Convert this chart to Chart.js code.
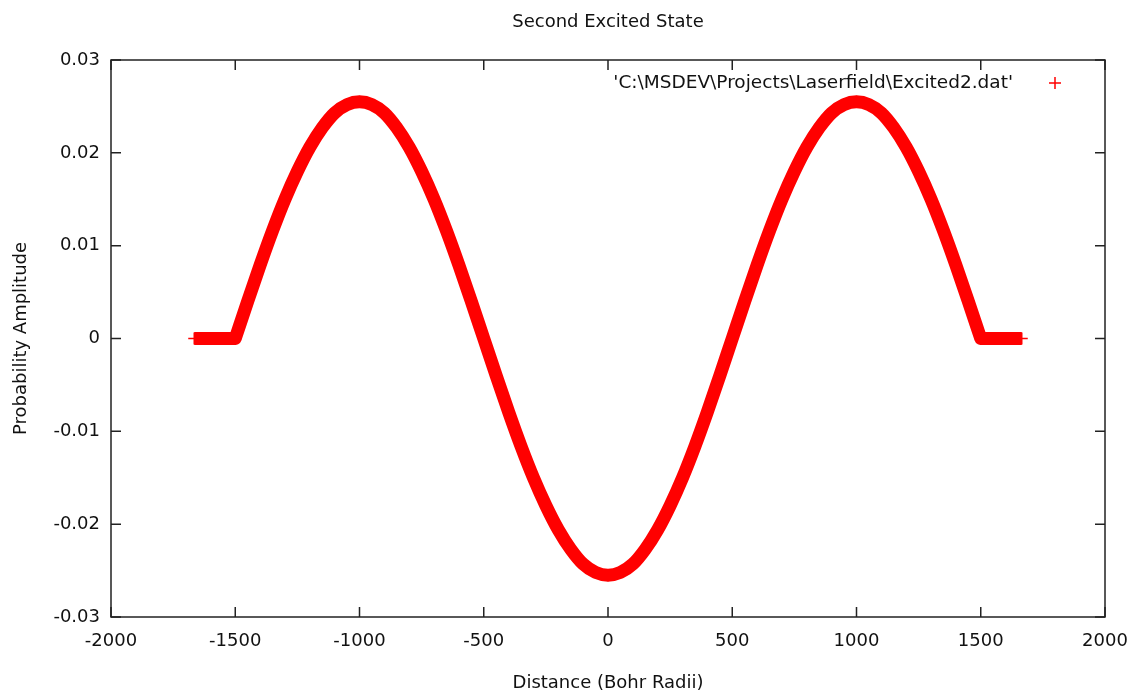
<!DOCTYPE html>
<html>
<head>
<meta charset="utf-8">
<title>Second Excited State</title>
<script src="https://cdn.jsdelivr.net/npm/chart.js@4.4.1/dist/chart.umd.min.js"></script>
<style>
	html, body { margin: 0; padding: 0; background: #ffffff; overflow: hidden; }
	#wrap { width: 1134px; height: 696px; position: relative; }
</style>
</head>
<body>
<div id="wrap"><canvas id="excited-chart"></canvas></div>
<script>
// values (distance in Bohr radii, amplitude)
const distance = [
	-1665, -1600, -1550, -1500, -1450, -1400, -1350, -1300, -1250, -1200, -1150, -1100, -1050,
	-1000, -950, -900, -850, -800, -750, -700, -650, -600, -550, -500, -450, -400, -350, -300,
	-250, -200, -150, -100, -50, 0, 50, 100, 150, 200, 250, 300, 350, 400, 450, 500, 550, 600,
	650, 700, 750, 800, 850, 900, 950, 1000, 1050, 1100, 1150, 1200, 1250, 1300, 1350, 1400,
	1450, 1500, 1550, 1600, 1665
];
const amplitude = [
	0, 0, 0, 0, 0.0040, 0.0079, 0.0116, 0.0150, 0.0180, 0.0206, 0.0227, 0.0243, 0.0252,
	0.0255, 0.0252, 0.0243, 0.0227, 0.0206, 0.0180, 0.0150, 0.0116, 0.0079, 0.0040, 0, -0.0040,
	-0.0079, -0.0116, -0.0150, -0.0180, -0.0206, -0.0227, -0.0243, -0.0252, -0.0255, -0.0252,
	-0.0243, -0.0227, -0.0206, -0.0180, -0.0150, -0.0116, -0.0079, -0.0040, 0, 0.0040, 0.0079,
	0.0116, 0.0150, 0.0180, 0.0206, 0.0227, 0.0243, 0.0252, 0.0255, 0.0252, 0.0243, 0.0227,
	0.0206, 0.0180, 0.0150, 0.0116, 0.0079, 0.0040, 0, 0, 0, 0
];
// the wave only lives between these distances, outside it the amplitude is flat zero
const waveStart = -1500, waveEnd = 1500;

const seriesLabel = "'C:\\MSDEV\\Projects\\Laserfield\\Excited2.dat'";
const chartTitle = 'Second Excited State';
const xTitle = 'Distance (Bohr Radii)';
const yTitle = 'Probability Amplitude';

const fontFamily = '"DejaVu Sans", Verdana, sans-serif';
const textColor = '#111111', frameColor = '#222222', redColor = '#ff0000';

Chart.defaults.font.family = fontFamily;
Chart.defaults.font.size = 18;
Chart.defaults.color = textColor;

const points = distance.map((d, i) => ({ x: d, y: amplitude[i] }));
const leftFlat = points.filter(p => p.x <= waveStart);
const wave = points.filter(p => p.x >= waveStart && p.x <= waveEnd);
const rightFlat = points.filter(p => p.x >= waveEnd);

function series(data, smooth) {
	return {
		label: seriesLabel,
		data: data,
		borderColor: redColor,
		backgroundColor: redColor,
		borderWidth: 13,
		borderJoinStyle: 'round',
		borderCapStyle: smooth ? 'round' : 'butt',
		cubicInterpolationMode: smooth ? 'monotone' : 'default',
		tension: 0,
		pointStyle: 'cross',
		pointRadius: 6,
		pointBorderWidth: 1.5,
		pointBorderColor: redColor,
		pointHoverRadius: 6
	};
}

// gnuplot style frame: border on all four sides, ticks pointing inwards, key in the corner
const gnuplotFrame = {
	id: 'gnuplotFrame',
	afterDatasetsDraw: (chart) => {
		const { ctx, chartArea: { top, bottom, left, right }, scales: { x, y } } = chart;
		const tickLen = 10;
		ctx.save();
		ctx.strokeStyle = frameColor;
		ctx.lineWidth = 1.5;
		ctx.strokeRect(left, top, right - left, bottom - top);

		ctx.beginPath();
		x.ticks.forEach(t => {
			const px = x.getPixelForValue(t.value);
			ctx.moveTo(px, bottom);
			ctx.lineTo(px, bottom - tickLen);
			ctx.moveTo(px, top);
			ctx.lineTo(px, top + tickLen);
		});
		y.ticks.forEach(t => {
			const py = y.getPixelForValue(t.value);
			ctx.moveTo(left, py);
			ctx.lineTo(left + tickLen, py);
			ctx.moveTo(right, py);
			ctx.lineTo(right - tickLen, py);
		});
		ctx.stroke();

		// key
		const keyY = top + 23;
		const keyTextRight = right - 92;
		const keyMarkX = right - 50;
		ctx.font = '18.5px ' + fontFamily;
		ctx.fillStyle = textColor;
		ctx.textAlign = 'right';
		ctx.textBaseline = 'middle';
		ctx.fillText(chart.data.datasets[0].label, keyTextRight, keyY);
		ctx.strokeStyle = redColor;
		ctx.lineWidth = 1.5;
		ctx.beginPath();
		ctx.moveTo(keyMarkX - 6, keyY);
		ctx.lineTo(keyMarkX + 6, keyY);
		ctx.moveTo(keyMarkX, keyY - 6);
		ctx.lineTo(keyMarkX, keyY + 6);
		ctx.stroke();
		ctx.restore();
	}
};

const ctx = document.getElementById('excited-chart');
new Chart(ctx, {
	type: 'line',
	data: {
		datasets: [series(leftFlat, false), series(wave, true), series(rightFlat, false)]
	},
	options: {
		animation: false,
		responsive: true,
		maintainAspectRatio: false,
		layout: {
			padding: { left: 0, right: 29, top: 0, bottom: 0 }
		},
		plugins: {
			legend: { display: false },
			tooltip: { enabled: false },
			title: {
				display: true,
				fullSize: false,
				text: chartTitle,
				color: textColor,
				font: { size: 18, weight: 'normal' },
				padding: { top: 12, bottom: 26.4 }
			}
		},
		scales: {
			x: {
				type: 'linear',
				min: -2000,
				max: 2000,
				grid: { display: false, drawTicks: false },
				border: { display: false },
				ticks: {
					stepSize: 500,
					padding: 14,
					maxRotation: 0,
					color: textColor,
					callback: v => String(v)
				},
				title: {
					display: true,
					text: xTitle,
					color: textColor,
					font: { size: 18 },
					padding: { top: 0, bottom: 2 }
				},
				afterFit: (scale) => {
					scale.height = 79;
					scale.paddingLeft = 0;
					scale.paddingRight = 0;
				}
			},
			y: {
				type: 'linear',
				min: -0.03,
				max: 0.03,
				grid: { display: false, drawTicks: false },
				border: { display: false },
				ticks: {
					stepSize: 0.01,
					padding: 11,
					color: textColor,
					callback: v => String(Number(v.toFixed(2)))
				},
				title: {
					display: true,
					text: yTitle,
					color: textColor,
					font: { size: 18 },
					padding: { top: 11, bottom: 0 }
				},
				afterFit: (scale) => { scale.width = 111; }
			}
		}
	},
	plugins: [gnuplotFrame]
});
</script>
</body>
</html>
